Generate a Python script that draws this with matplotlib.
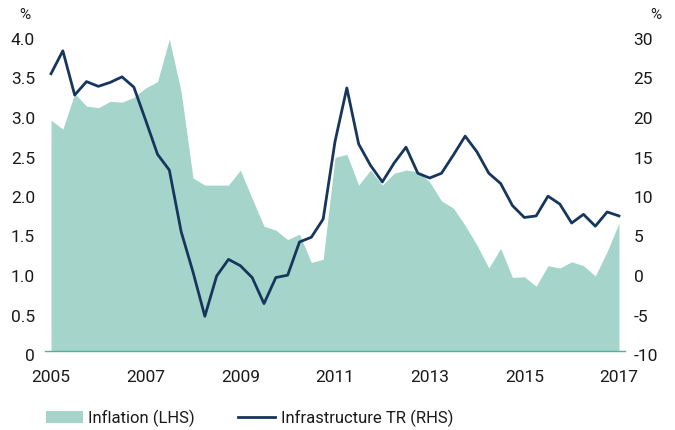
import numpy as np
import matplotlib
matplotlib.use("Agg")
import matplotlib.pyplot as plt
from matplotlib.patches import Patch
from matplotlib.lines import Line2D
from matplotlib.transforms import ScaledTranslation

plt.rcParams['font.family'] = ['Roboto', 'DejaVu Sans']

# quarterly observations, 2005 Q1 .. 2017 Q1
start_year = 2005
n_quarters = 49
inflation = [2.92, 2.81, 3.26, 3.10, 3.08, 3.16, 3.15, 3.21, 3.33, 3.41,
             3.95, 3.28, 2.19, 2.10, 2.10, 2.10, 2.29, 1.93, 1.58, 1.53,
             1.41, 1.48, 1.12, 1.16, 2.45, 2.49, 2.10, 2.29, 2.10, 2.25,
             2.29, 2.27, 2.14, 1.90, 1.81, 1.59, 1.34, 1.05, 1.30, 0.93,
             0.94, 0.82, 1.08, 1.05, 1.13, 1.08, 0.95, 1.26, 1.62]
infra_tr = [25.1, 28.0, 22.4, 24.1, 23.5, 24.0, 24.7, 23.4, 19.2, 14.9,
            12.9, 5.1, 0.0, -5.6, -0.5, 1.6, 0.8, -0.7, -4.0, -0.7,
            -0.4, 3.8, 4.4, 6.7, 16.5, 23.3, 16.2, 13.5, 11.4, 13.8,
            15.8, 12.5, 11.9, 12.5, 14.8, 17.2, 15.2, 12.5, 11.2, 8.4,
            6.9, 7.1, 9.6, 8.6, 6.2, 7.3, 5.8, 7.6, 7.1]
x_ticks = [2005, 2007, 2009, 2011, 2013, 2015, 2017]
left_ticks = [0, 0.5, 1.0, 1.5, 2.0, 2.5, 3.0, 3.5, 4.0]
left_labels = ["0", "0.5", "1.0", "1.5", "2.0", "2.5", "3.0", "3.5", "4.0"]
right_ticks = [-10, -5, 0, 5, 10, 15, 20, 25, 30]

area_color = "#a5d5ca"
line_color = "#17365d"
base_color = "#4db39a"
text_color = "#1a1a1a"

t = start_year + np.arange(n_quarters) / 4.0

fig = plt.figure(figsize=(6.75, 4.30), dpi=100)
ax = fig.add_axes([45 / 675, 79 / 430, 580 / 675, 316 / 430])
ax2 = ax.twinx()

ax.fill_between(t, 0, inflation, color=area_color, linewidth=0, zorder=1)
ax2.plot(t, infra_tr, color=line_color, linewidth=2.0, zorder=3)

ax.set_xlim(2005 - 0.127, 2017 + 0.127)
ax.set_ylim(0, 4.0)
ax2.set_ylim(-10, 30)

ax.set_xticks(x_ticks)
ax.set_xticklabels([str(v) for v in x_ticks])
ax.set_yticks(left_ticks)
ax.set_yticklabels(left_labels)
ax2.set_yticks(right_ticks)
ax2.set_yticklabels([str(v) for v in right_ticks])

for a in (ax, ax2):
    for s in a.spines.values():
        s.set_visible(False)
ax.spines['bottom'].set_visible(True)
ax.spines['bottom'].set_color(base_color)
ax.spines['bottom'].set_linewidth(1.0)

ax.tick_params(axis='x', length=0, pad=14, labelsize=12.5, labelcolor=text_color)
ax.tick_params(axis='y', length=0, pad=7.2, labelsize=12.5, labelcolor=text_color)
ax2.tick_params(axis='y', length=0, pad=6.3, labelsize=12.5, labelcolor=text_color)

shift = ScaledTranslation(0, -4 / 100, fig.dpi_scale_trans)
for lab in ax.get_yticklabels() + ax2.get_yticklabels():
    lab.set_transform(lab.get_transform() + shift)

fig.text(25 / 675, 1 - 15 / 430, "%", ha='center', va='center', fontsize=11, color=text_color)
fig.text(656 / 675, 1 - 15 / 430, "%", ha='center', va='center', fontsize=11, color=text_color)

handles = [Patch(facecolor=area_color, edgecolor='none'),
           Line2D([0], [0], color=line_color, linewidth=2.0)]
fig.legend(handles, ["Inflation (LHS)", "Infrastructure TR (RHS)"],
           loc='center left', bbox_to_anchor=(31 / 675, 1 - 418 / 430),
           ncol=2, frameon=False, fontsize=12, handlelength=2.2,
           handleheight=0.8, handletextpad=0.35, columnspacing=2.6,
           labelcolor=text_color)

fig.savefig("out.png", dpi=100)
